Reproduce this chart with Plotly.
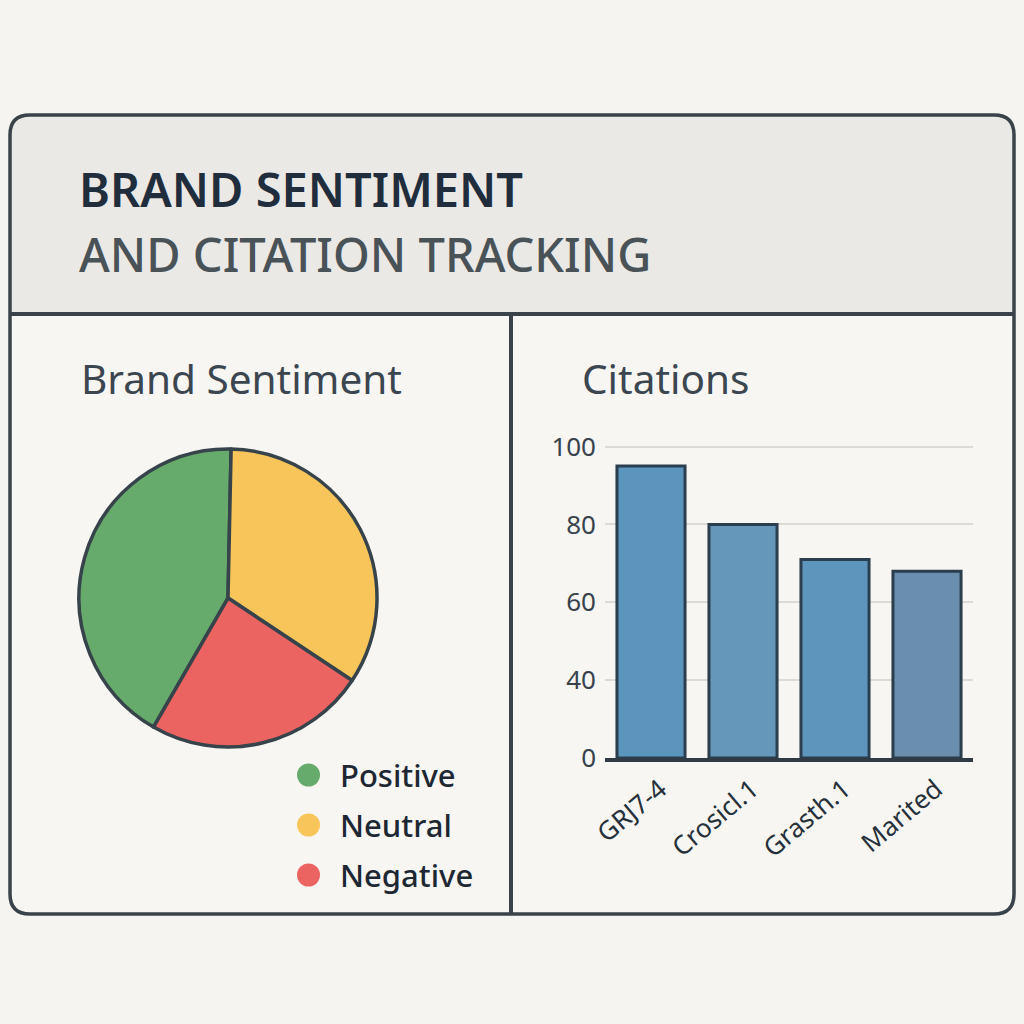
import numpy as np
import plotly.graph_objects as go

# ---------------- data ----------------
sentiment_labels = ["Positive", "Neutral", "Negative"]
sentiment_values = [42, 34, 24]
sentiment_colors = ["#66ab6c", "#f7c55a", "#eb6461"]

citation_labels = ["GRJ7-4", "Crosicl.1", "Grasth.1", "Marited"]
citation_values = [95, 80, 71, 68]
citation_colors = ["#5b94bd", "#6497b9", "#5e95bd", "#6a8fae"]

ytick_values = [0, 40, 60, 80, 100]

title_line1 = "BRAND SENTIMENT"
title_line2 = "AND CITATION TRACKING"
left_title = "Brand Sentiment"
right_title = "Citations"

# ---------------- helpers ----------------
W = H = 1024.0


def px(x):
    return x / W


def py(y):
    return 1 - y / H


# The value axis in the picture spaces its tick labels evenly, so values are
# mapped through that piecewise scale.
tick_pos = list(range(len(ytick_values)))
bar_pos = np.interp(citation_values, ytick_values, tick_pos)

FONT = "Noto Sans"
EDGE = "#3a4349"

fig = go.Figure()

fig.add_trace(go.Pie(
    labels=sentiment_labels,
    values=sentiment_values,
    sort=False,
    direction="clockwise",
    rotation=210,
    marker=dict(colors=sentiment_colors, line=dict(color="#37434a", width=3.5)),
    textinfo="none",
    hoverinfo="label+percent",
    showlegend=False,
    domain=dict(x=[px(79), px(377)], y=[py(747), py(449)]),
))

fig.add_trace(go.Bar(
    x=citation_labels,
    y=bar_pos,
    customdata=citation_values,
    hovertemplate="%{x}: %{customdata}<extra></extra>",
    marker=dict(color=citation_colors, line=dict(color="#2b3e4e", width=3)),
    showlegend=False,
    xaxis="x", yaxis="y",
))

fig.update_layout(
    width=1024, height=1024,
    margin=dict(l=0, r=0, t=0, b=0, pad=0),
    paper_bgcolor="#f6f4f0",
    plot_bgcolor="rgba(0,0,0,0)",
    bargap=0.26,
    xaxis=dict(
        domain=[px(605), px(973)],
        automargin=False,
        showgrid=False, zeroline=False,
        showline=True, linecolor="#2f3a44", linewidth=3.5,
        ticks="", tickangle=-40,
        ticklabelshift=9, ticklabelstandoff=2,
        tickfont=dict(family=FONT, size=26, color="#26303a"),
        fixedrange=True,
    ),
    yaxis=dict(
        domain=[py(758), py(431)],
        automargin=False,
        range=[0, 4.2],
        tickvals=tick_pos,
        ticktext=[str(v) for v in ytick_values],
        showgrid=True, gridcolor="#dcdad5", gridwidth=1.5,
        zeroline=False, showline=False, ticks="",
        ticklabelstandoff=8,
        tickfont=dict(family=FONT, size=26, color="#37424c"),
        fixedrange=True,
    ),
)

# ---------------- card frame ----------------
x0, x1, y0, y1, r = 10, 1014, 115, 914, 20
hy = 314


def rrect(x0, y0, x1, y1, r, top_only=False):
    p = f"M {px(x0 + r)},{py(y0)} L {px(x1 - r)},{py(y0)} "
    p += f"Q {px(x1)},{py(y0)} {px(x1)},{py(y0 + r)} "
    if top_only:
        p += f"L {px(x1)},{py(y1)} L {px(x0)},{py(y1)} "
    else:
        p += f"L {px(x1)},{py(y1 - r)} Q {px(x1)},{py(y1)} {px(x1 - r)},{py(y1)} "
        p += f"L {px(x0 + r)},{py(y1)} Q {px(x0)},{py(y1)} {px(x0)},{py(y1 - r)} "
    p += f"L {px(x0)},{py(y0 + r)} Q {px(x0)},{py(y0)} {px(x0 + r)},{py(y0)} Z"
    return p


shapes = [
    dict(type="path", path=rrect(x0, y0, x1, y1, r), xref="paper", yref="paper",
         fillcolor="#f8f6f2", line=dict(width=0), layer="below"),
    dict(type="path", path=rrect(x0, y0, x1, hy, r, top_only=True), xref="paper", yref="paper",
         fillcolor="#ebe9e5", line=dict(width=0), layer="below"),
    dict(type="line", x0=px(x0), x1=px(x1), y0=py(hy), y1=py(hy), xref="paper", yref="paper",
         line=dict(color=EDGE, width=4), layer="above"),
    dict(type="line", x0=px(511), x1=px(511), y0=py(hy), y1=py(y1), xref="paper", yref="paper",
         line=dict(color=EDGE, width=4), layer="above"),
    dict(type="path", path=rrect(x0, y0, x1, y1, r), xref="paper", yref="paper",
         fillcolor="rgba(0,0,0,0)", line=dict(color=EDGE, width=3.5), layer="above"),
]

# legend markers
legend_y = [775, 825, 875]
for lab, col, yy in zip(sentiment_labels, sentiment_colors, legend_y):
    shapes.append(dict(type="circle", xref="paper", yref="paper",
                       x0=px(297), x1=px(320), y0=py(yy + 11.5), y1=py(yy - 11.5),
                       fillcolor=col, line=dict(width=0)))

annotations = [
    dict(text=title_line1, x=px(77), y=py(189), xref="paper", yref="paper",
         xanchor="left", yanchor="middle", showarrow=False,
         font=dict(family=FONT, size=47, color="#1f2d3d", weight=600)),
    dict(text=title_line2, x=px(77), y=py(254), xref="paper", yref="paper",
         xanchor="left", yanchor="middle", showarrow=False,
         font=dict(family=FONT, size=47, color="#495257", weight=500)),
    dict(text=left_title, x=px(79), y=py(378), xref="paper", yref="paper",
         xanchor="left", yanchor="middle", showarrow=False,
         font=dict(family=FONT, size=40.5, color="#3b4650")),
    dict(text=right_title, x=px(580), y=py(378), xref="paper", yref="paper",
         xanchor="left", yanchor="middle", showarrow=False,
         font=dict(family=FONT, size=40.5, color="#3b4650")),
]
for lab, yy in zip(sentiment_labels, legend_y):
    annotations.append(dict(text=lab, x=px(338), y=py(yy), xref="paper", yref="paper",
                            xanchor="left", yanchor="middle", showarrow=False,
                            font=dict(family=FONT, size=31, color="#1d2733", weight=500)))

fig.update_layout(shapes=shapes, annotations=annotations)

fig.write_html("out.html")
